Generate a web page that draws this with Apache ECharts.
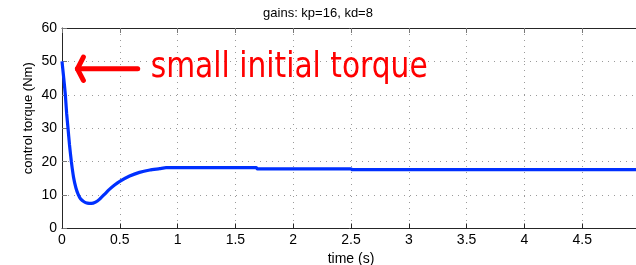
<!DOCTYPE html>
<html>
<head>
<meta charset="utf-8">
<script src="https://cdn.jsdelivr.net/npm/echarts@6/dist/echarts.min.js"></script>
<style>
  html, body { margin: 0; padding: 0; background: #fff; }
  #chart { width: 636px; height: 265px; }
</style>
</head>
<body>
<div id="chart"></div>
<script>
// control torque response
const timeS = [0, 0.015, 0.029, 0.04, 0.052, 0.065, 0.081, 0.1, 0.12, 0.14, 0.16, 0.19, 0.22, 0.254,
  0.29, 0.326, 0.37, 0.41, 0.455, 0.5, 0.585, 0.67, 0.76, 0.845, 0.9, 1.68, 1.69, 2.5, 2.51, 5]
const torqueNm = [50, 45, 40, 34.5, 30, 25, 20, 15.3, 12.2, 10.2, 8.9, 8.0, 7.6, 7.5,
  7.9, 8.8, 10.3, 11.7, 13.0, 14.1, 15.7, 16.8, 17.5, 17.9, 18.2, 18.2, 17.85, 17.85, 17.6, 17.6]

const titleText = 'gains: kp=16, kd=8'
const xName = 'time (s)'
const yName = 'control torque (Nm)'
const noteText = 'small initial torque'

// arrow annotation in data coords (tip, tail, arm ends) and label anchor
const arrowTip = [0.133, 47.8]
const arrowTail = [0.655, 47.8]
const arrowArms = [[0.185, 51.3], [0.185, 44.3]]
const noteAnchor = [0.767, 47.8]

const font = '"Liberation Sans", Arial, Helvetica, sans-serif'
const axisColor = '#262626'

const chart = echarts.init(document.getElementById('chart'), null, { renderer: 'canvas' })

const splitLineStyle = { show: true, lineStyle: { color: '#9a9a9a', type: [1, 5], width: 1 } }

chart.setOption({
  backgroundColor: '#fff',
  animation: false,
  title: {
    text: titleText,
    left: 'center',
    top: 7,
    padding: [0, 0, 0, 65],
    textStyle: { fontFamily: font, fontSize: 13, fontWeight: 'normal', color: '#000' }
  },
  grid: { left: 62, top: 28, right: -4, bottom: 36.5, outerBoundsMode: 'none', containLabel: false },
  xAxis: [
    {
      type: 'value',
      min: 0,
      max: 5,
      interval: 0.5,
      name: xName,
      nameLocation: 'middle',
      nameGap: 23,
      nameTextStyle: { fontFamily: font, fontSize: 14, color: '#000' },
      axisLine: { show: true, onZero: false, lineStyle: { color: axisColor, width: 1 } },
      axisTick: { show: true, inside: true, length: 5, lineStyle: { color: axisColor } },
      axisLabel: { fontFamily: font, fontSize: 14, color: '#000', margin: 5, showMaxLabel: false },
      splitLine: splitLineStyle
    },
    {
      type: 'value',
      position: 'top',
      min: 0,
      max: 5,
      interval: 0.5,
      axisLine: { show: true, onZero: false, lineStyle: { color: axisColor, width: 1 } },
      axisTick: { show: true, inside: true, length: 5, lineStyle: { color: '#777' } },
      axisLabel: { show: false },
      splitLine: { show: false }
    }
  ],
  yAxis: {
    type: 'value',
    min: 0,
    max: 60,
    interval: 10,
    name: yName,
    nameLocation: 'middle',
    nameGap: 27,
    nameMoveOverlap: false,
    nameTextStyle: { fontFamily: font, fontSize: 13, color: '#000', padding: [0, 0, 0, 20] },
    axisLine: { show: true, onZero: false, lineStyle: { color: axisColor, width: 1 } },
    axisTick: { show: true, inside: true, length: 5, lineStyle: { color: '#777' } },
    axisLabel: { fontFamily: font, fontSize: 14, color: '#000', margin: 5 },
    splitLine: splitLineStyle
  },
  series: [
    {
      name: 'torque',
      type: 'line',
      xAxisIndex: 0,
      data: timeS.map((t, i) => [t, torqueNm[i]]),
      showSymbol: false,
      symbol: 'none',
      smooth: 0.2,
      lineStyle: { color: '#0030ff', width: 3.2 },
      z: 3
    }
  ]
})

// annotation: arrow + red label, placed from data coords
const px = p => chart.convertToPixel({ gridIndex: 0 }, p)
const tip = px(arrowTip)
const tail = px(arrowTail)
const armA = px(arrowArms[0])
const armB = px(arrowArms[1])
const anchor = px(noteAnchor)

// squeeze the label to the width it has in the picture
const noteFont = '35px "DejaVu Sans", Verdana, sans-serif'
const ctx = document.createElement('canvas').getContext('2d')
ctx.font = noteFont
const noteWidth = ctx.measureText(noteText).width
const noteScale = 277 / noteWidth

const red = '#ff0000'
chart.setOption({
  graphic: [
    {
      type: 'polyline',
      shape: { points: [tail, tip] },
      style: { stroke: red, lineWidth: 5, lineCap: 'round', fill: null },
      z: 10
    },
    {
      type: 'polyline',
      shape: { points: [armA, tip, armB] },
      style: { stroke: red, lineWidth: 5, lineCap: 'round', lineJoin: 'round', fill: null },
      z: 10
    },
    {
      type: 'text',
      x: anchor[0],
      y: anchor[1] - 1,
      scaleX: noteScale,
      style: {
        text: noteText,
        fill: red,
        font: noteFont,
        align: 'left',
        verticalAlign: 'middle'
      },
      z: 10
    }
  ]
})
</script>
</body>
</html>
